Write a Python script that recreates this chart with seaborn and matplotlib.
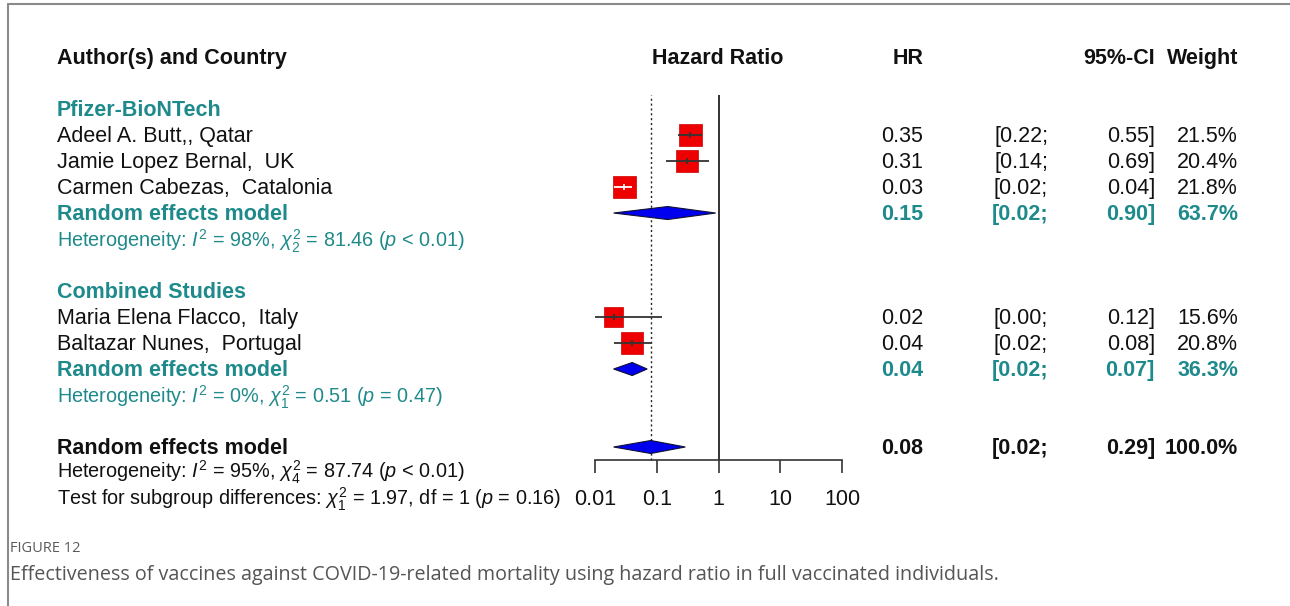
import numpy as np
import pandas as pd
import seaborn as sns
import matplotlib
matplotlib.use("Agg")
import matplotlib.pyplot as plt
from matplotlib.transforms import blended_transform_factory
from matplotlib.lines import Line2D

# ---------------- data ----------------
groups = ["Pfizer-BioNTech", "Combined Studies"]
study_group = [0, 0, 0, 1, 1]
studies = ["Adeel A. Butt,, Qatar", "Jamie Lopez Bernal,  UK",
           "Carmen Cabezas,  Catalonia", "Maria Elena Flacco,  Italy",
           "Baltazar Nunes,  Portugal"]
hr = [0.35, 0.31, 0.03, 0.02, 0.04]
ci_lo = [0.22, 0.14, 0.02, 0.0035, 0.02]
ci_hi = [0.55, 0.69, 0.04, 0.12, 0.08]
weight = [21.5, 20.4, 21.8, 15.6, 20.8]

sub_hr = [0.15, 0.04]
sub_lo = [0.02, 0.02]
sub_hi = [0.90, 0.07]
sub_w = [63.7, 36.3]
sub_het = [r"Heterogeneity: $I^2$ = 98%, $\chi^2_2$ = 81.46 ($p$ < 0.01)",
           r"Heterogeneity: $I^2$ = 0%, $\chi^2_1$ = 0.51 ($p$ = 0.47)"]

overall_hr = 0.08
overall_lo = 0.02
overall_hi = 0.29
overall_w = 100.0
overall_het = r"Heterogeneity: $I^2$ = 95%, $\chi^2_4$ = 87.74 ($p$ < 0.01)"
subgroup_test = r"Test for subgroup differences: $\chi^2_1$ = 1.97, df = 1 ($p$ = 0.16)"

x_ticks = [0.01, 0.1, 1, 10, 100]
x_tick_labels = ["0.01", "0.1", "1", "10", "100"]

headers = ["Author(s) and Country", "Hazard Ratio", "HR", "95%-CI", "Weight"]
caption_label = "FIGURE 12"
caption_text = ("Effectiveness of vaccines against COVID-19-related mortality using "
                "hazard ratio in full vaccinated individuals.")

# ---------------- style ----------------
sns.set_theme(style="white")
plt.rcParams["font.family"] = ["Liberation Sans", "DejaVu Sans"]
plt.rcParams["mathtext.fontset"] = "custom"
plt.rcParams["mathtext.rm"] = "Liberation Sans"
plt.rcParams["mathtext.it"] = "Liberation Sans:italic"
plt.rcParams["mathtext.bf"] = "Liberation Sans:bold"

TEAL = "#1f8a8b"
BLACK = "#111111"
W, H = 1290, 606

fig = plt.figure(figsize=(W / 100, H / 100), dpi=100)
fig.patch.set_facecolor("white")

# forest axes: 0.01 at x=595px, 100 at x=842px, top y=95px, axis at y=460px
ax = fig.add_axes([595 / W, (H - 460) / H, (842 - 595) / W, (460 - 95) / H])

# row layout
study_rows = []
sub_rows, sub_het_rows, header_rows = [], [], []
r = 0
for g in range(len(groups)):
    header_rows.append(r)
    r += 1
    for i, sg in enumerate(study_group):
        if sg == g:
            study_rows.append(r)
            r += 1
    sub_rows.append(r)
    sub_het_rows.append(r + 1)
    r += 3
overall_row = r
overall_het_row = r + 0.9
test_row = r + 1.95

# squares via seaborn
df = pd.DataFrame({"hr": hr, "row": study_rows, "w": weight})
sizes = [(22.5 * np.sqrt(w / 21.5) * 0.72) ** 2 for w in weight]
sns.scatterplot(data=df, x="hr", y="row", marker="s", s=sizes, color="#ee0000",
                edgecolor="#cc0000", linewidth=0.5, ax=ax, zorder=3, legend=False)

ax.set_xscale("log")
ax.set_xlim(0.01, 100)
ax.set_ylim(13.5, -0.54)
ax.set_facecolor("none")
for s in ["top", "right", "left"]:
    ax.spines[s].set_visible(False)
ax.spines["bottom"].set_color("#333333")
ax.spines["bottom"].set_linewidth(1.2)
ax.set_xticks(x_ticks)
ax.set_xticklabels(x_tick_labels)
ax.minorticks_off()
ax.tick_params(axis="x", direction="out", length=9, width=1.2, color="#333333",
               pad=12, labelsize=15.5, labelcolor=BLACK, bottom=True)
ax.set_yticks([])
ax.set_xlabel("")
ax.set_ylabel("")

# reference lines
ax.axvline(1, color="#333333", lw=1.4, zorder=1)
ax.axvline(overall_hr, color="#222222", lw=1.0, ls=(0, (1.5, 2)), zorder=1)

# CI lines (white if fully inside the box)
for i in range(len(hr)):
    side_px = 22.5 * np.sqrt(weight[i] / 21.5)
    x_c = np.log10(hr[i])
    half_dec = side_px / 2 / 61.75
    inside = (np.log10(ci_lo[i]) > x_c - half_dec) and (np.log10(ci_hi[i]) < x_c + half_dec)
    col = "white" if inside else "#333333"
    ax.hlines(study_rows[i], ci_lo[i], ci_hi[i], color=col, lw=1.3, zorder=4)
    ax.plot([hr[i]], [study_rows[i]], marker="|", ms=5, mew=1.2, color=col, zorder=5)

# diamonds
dh = 0.25
def diamond(est, lo, hi, row):
    ax.fill([lo, est, hi, est, lo], [row, row - dh, row, row + dh, row],
            facecolor="#0000ee", edgecolor="#111133", lw=0.8, zorder=4)

for g in range(len(groups)):
    diamond(sub_hr[g], sub_lo[g], sub_hi[g], sub_rows[g])
diamond(overall_hr, overall_lo, overall_hi, overall_row)

# ---------------- text columns ----------------
T = blended_transform_factory(fig.transFigure, ax.transData)
FS = 15.5
FS_HET = 14.3
DY = 0.07
X_LAB = 57 / W
X_HR = 923 / W
X_LO = 1048 / W
X_HI = 1155 / W
X_W = 1238 / W

def txt(x, y, s, **kw):
    kw.setdefault("fontsize", FS)
    kw.setdefault("color", BLACK)
    kw.setdefault("va", "center")
    ax.text(x, y + DY, s, transform=T, clip_on=False, **kw)

hdr_row = -2.0
txt(X_LAB, hdr_row, headers[0], fontweight="bold")
txt(718 / W, hdr_row, headers[1], fontweight="bold", ha="center")
txt(X_HR, hdr_row, headers[2], fontweight="bold", ha="right")
txt(X_HI, hdr_row, headers[3], fontweight="bold", ha="right")
txt(X_W, hdr_row, headers[4], fontweight="bold", ha="right")

def stats_row(row, est, lo, hi, w, color, bold):
    fw = "bold" if bold else "normal"
    txt(X_HR, row, f"{est:.2f}", ha="right", color=color, fontweight=fw)
    txt(X_LO, row, f"[{lo:.2f};", ha="right", color=color, fontweight=fw)
    txt(X_HI, row, f"{hi:.2f}]", ha="right", color=color, fontweight=fw)
    txt(X_W, row, f"{w:.1f}%", ha="right", color=color, fontweight=fw)

for g in range(len(groups)):
    txt(X_LAB, header_rows[g], groups[g], color=TEAL, fontweight="bold")
for i in range(len(hr)):
    txt(X_LAB, study_rows[i], studies[i])
    stats_row(study_rows[i], hr[i], ci_lo[i], ci_hi[i], weight[i], BLACK, False)
for g in range(len(groups)):
    txt(X_LAB, sub_rows[g], "Random effects model", color=TEAL, fontweight="bold")
    stats_row(sub_rows[g], sub_hr[g], sub_lo[g], sub_hi[g], sub_w[g], TEAL, True)
    txt(X_LAB, sub_het_rows[g], sub_het[g], color=TEAL, fontsize=FS_HET)

txt(X_LAB, overall_row, "Random effects model", fontweight="bold")
stats_row(overall_row, overall_hr, overall_lo, overall_hi, overall_w, BLACK, True)
txt(X_LAB, overall_het_row, overall_het, fontsize=FS_HET)
txt(X_LAB, test_row, subgroup_test, fontsize=FS_HET)

# ---------------- frame & caption ----------------
fig.add_artist(Line2D([8 / W, 8 / W], [0, 1 - 4 / H], transform=fig.transFigure,
                      color="#8a8a8a", lw=1.5))
fig.add_artist(Line2D([8 / W, 1], [1 - 4 / H, 1 - 4 / H], transform=fig.transFigure,
                      color="#8a8a8a", lw=1.5))
fig.text(10 / W, 1 - 548 / H, caption_label, fontsize=10.5, color="#5a5a5a",
         va="center", ha="left", family=["Open Sans", "DejaVu Sans"])
fig.text(10 / W, 1 - 575 / H, caption_text, fontsize=14.2, color="#555555",
         va="center", ha="left", family=["Open Sans", "DejaVu Sans"])

fig.savefig("out.png", dpi=100, facecolor="white")
